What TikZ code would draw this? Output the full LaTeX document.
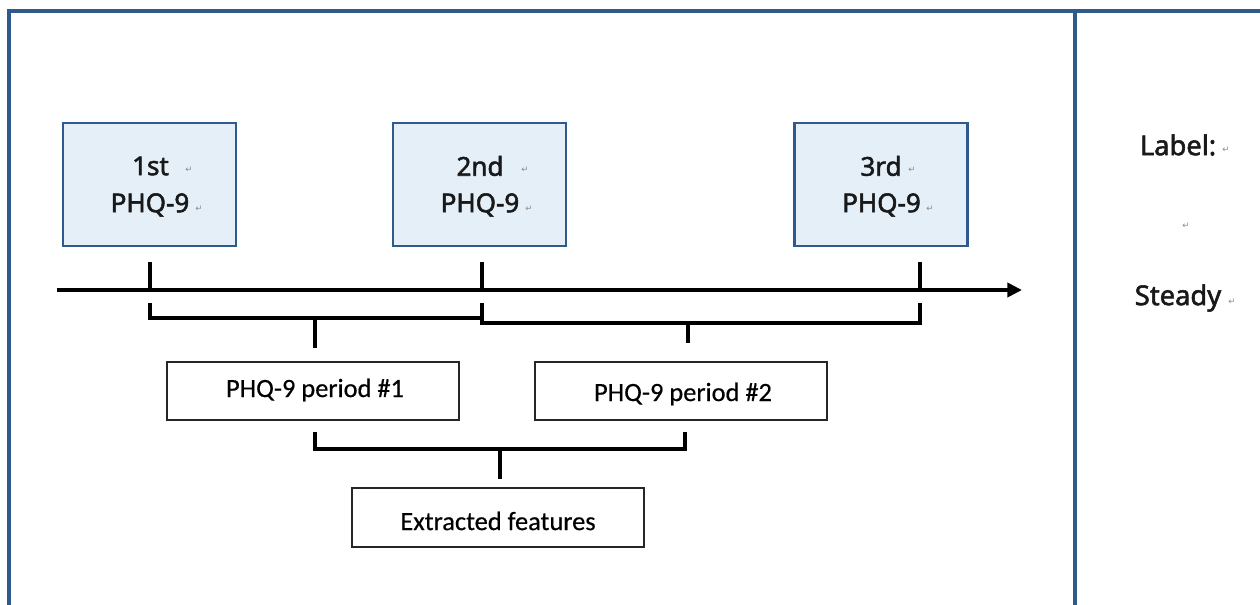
\documentclass[tikz,border=0pt]{standalone}
\usepackage{fontspec}
\setmainfont{Noto Sans}
\newfontfamily\medf{Noto Sans}[FakeBold=2]
\newfontfamily\calib{Carlito}[FakeBold=0.5]
\newfontfamily\symf{DejaVu Sans}
\usetikzlibrary{arrows.meta}
\definecolor{frameblue}{HTML}{2E5A8E}
\definecolor{boxfill}{HTML}{E5EFF8}
\definecolor{markgray}{HTML}{8A8A8A}
\tikzset{
  pqbox/.style={draw=frameblue, fill=boxfill, line width=2.2pt, minimum width=129.75pt, minimum height=92.25pt, inner sep=0pt},
  topt/.style={font=\medf\fontsize{19.5}{22}\selectfont, inner sep=0pt, text=black!90},
  perbox/.style={draw=black!85, line width=1.5pt, minimum width=219pt, minimum height=43.5pt, inner sep=0pt},
  pert/.style={font=\calib\fontsize{19.8}{22}\selectfont, inner sep=0pt},
  rmark/.style={font=\symf\fontsize{6.5}{7}\selectfont, text=markgray, inner sep=0pt},
  lbl/.style={font=\medf\fontsize{20.5}{23}\selectfont, inner sep=0pt, text=black!90},
  brk/.style={line width=2.4pt, line cap=rect, line join=miter},
  framel/.style={draw=frameblue, line width=2.4pt}
}
\begin{document}
\begin{tikzpicture}[x=0.75pt,y=-0.75pt]
\useasboundingbox (0,0) rectangle (1260,605);
% frame
\draw[framel] (9,612) -- (9,11) -- (1270,11);
\draw[framel] (1075,11) -- (1075,612);
% top boxes
\node[pqbox] (b1) at (149.5,184.5) {};
\node[pqbox] (b2) at (479.5,184.5) {};
\node[pqbox] (b3) at (881,184.5) {};
\node[topt] (t1a) at (150.5,166) {1st};
\node[topt] (t1b) at (150,205) {PHQ-9};
\node[topt] (t2a) at (480,166) {2nd};
\node[topt] (t2b) at (480,205) {PHQ-9};
\node[topt] (t3a) at (881,166) {3rd};
\node[topt] (t3b) at (881.5,205) {PHQ-9};
\node[rmark] (m1a) at (189,170) {↵};
\node[rmark] (m1b) at (199,209) {↵};
\node[rmark] (m2a) at (525,170) {↵};
\node[rmark] (m2b) at (529,209) {↵};
\node[rmark] (m3a) at (912,170) {↵};
\node[rmark] (m3b) at (930,209) {↵};
% axis
\coordinate (ax0) at (57,290);
\coordinate (ax1) at (1022,290);
\draw[line width=3pt, -{Triangle[length=11pt,width=10.5pt]}] (ax0) -- (ax1);
\coordinate (k1) at (150,290);
\coordinate (k2) at (482,290);
\coordinate (k3) at (920,290);
\draw[line width=2.4pt] (k1) -- ++(0,-28);
\draw[line width=2.4pt] (k2) -- ++(0,-28);
\draw[line width=2.4pt] (k3) -- ++(0,-28);
% brackets
\coordinate (p1c) at (315,318);
\coordinate (p2c) at (688,323);
\draw[brk] (150,305) -- (150,318) -- (482,318);
\draw[brk] (482,305) -- (482,323) -- (920,323) -- (920,305);
% period boxes
\node[perbox] (pb1) at (313,391) {};
\node[perbox] (pb2) at (681,391) {};
\node[pert] (pt1) at (315,390) {PHQ-9 period \#1};
\node[pert] (pt2) at (683,394) {PHQ-9 period \#2};
\draw[brk] (p1c) -- (315,346);
\draw[brk] (p2c) -- (688,341);
% bottom bracket
\draw[brk] (315,434) -- (315,449) -- (685,449) -- (685,434);
\coordinate (p3c) at (500,449);
\node[perbox, minimum height=44.25pt] (ef) at (498,517.5) {};
\node[pert] (eft) at (498,521) {Extracted features};
\draw[brk] (p3c) -- (500,477);
% label panel
\node[lbl] (lab) at (1178,145) {Label:};
\node[rmark] (ml1) at (1226,150) {↵};
\node[rmark] (ml2) at (1186,226) {↵};
\node[lbl] (st) at (1178,298) {Steady};
\node[rmark] (ml3) at (1232,302) {↵};
\end{tikzpicture}
\end{document}
